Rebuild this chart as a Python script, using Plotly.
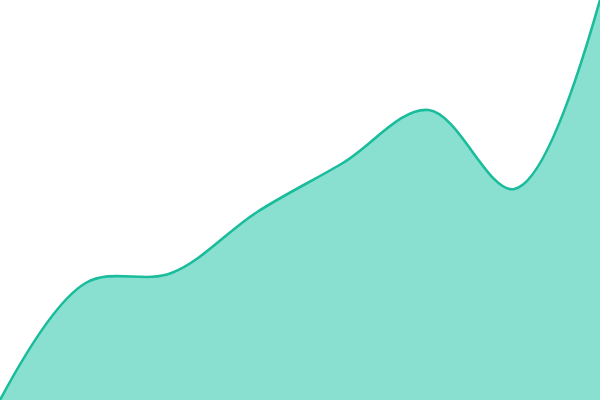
import plotly.graph_objects as go

x_vals = [0, 1, 2, 3, 4, 5, 6, 7]
y_vals = [0, 117, 127, 188, 237, 290, 211, 400]

fig = go.Figure(go.Scatter(
    x=x_vals, y=y_vals, mode="lines",
    line=dict(color="#1abc9c", width=2.6, shape="spline", smoothing=1),
    fill="tozeroy", fillcolor="#89e0d0",
    hoverinfo="skip",
))
fig.update_layout(
    width=600, height=400,
    margin=dict(l=0, r=0, t=0, b=0),
    paper_bgcolor="white", plot_bgcolor="white",
    showlegend=False,
    xaxis=dict(visible=False, range=[0, 7], fixedrange=True),
    yaxis=dict(visible=False, range=[0, 400], fixedrange=True),
)
fig.write_html(
    "out.html",
    config={"displayModeBar": False},
    post_script="document.body.style.margin='0';document.body.style.overflow='hidden';",
)
